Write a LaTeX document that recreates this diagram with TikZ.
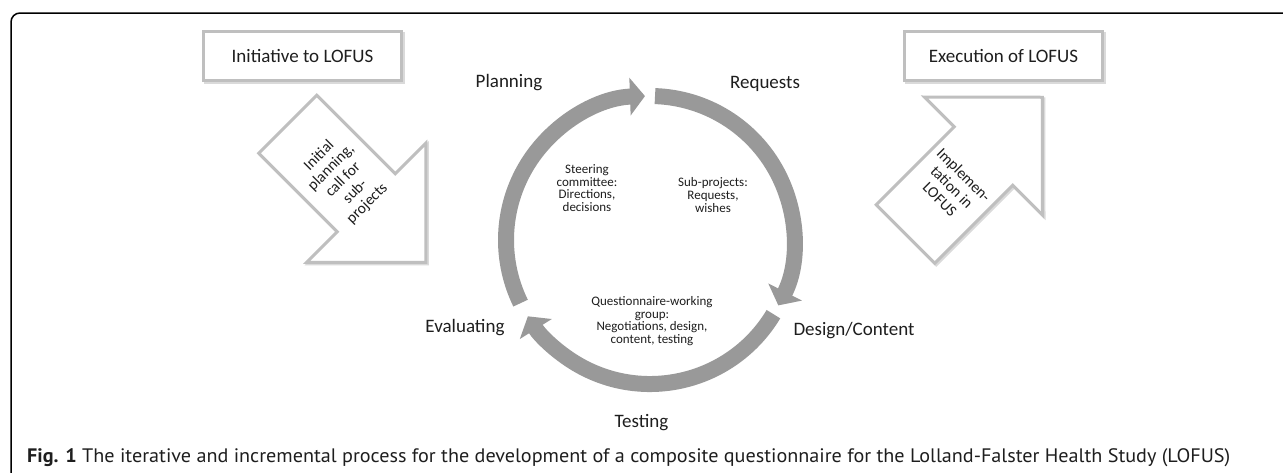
\documentclass[tikz,border=0pt]{standalone}
\usepackage{fontspec}
\usepackage{graphicx}
\setmainfont{Carlito}
\newfontfamily\capfont{PT Sans}
\usetikzlibrary{arrows.meta}
\definecolor{ringgray}{RGB}{153,153,153}
\definecolor{boxgray}{RGB}{191,191,191}
\definecolor{shadowgray}{RGB}{218,218,218}
\definecolor{txt}{RGB}{30,30,30}
\begin{document}
\begin{tikzpicture}[x=1pt,y=-1pt,
  ring/.style={draw=ringgray,line width=16pt,-{Triangle[width=37pt,length=15pt]}},
  boxnode/.style={draw=boxgray,line width=3pt,fill=white,inner sep=0pt,
    minimum width=198pt,minimum height=49pt,text=txt,
    font=\fontsize{19}{22}\selectfont,
    preaction={draw=shadowgray,line width=3pt,transform canvas={shift={(1.5pt,-1.5pt)}}}},
  blockarrow/.style={draw=boxgray,line width=3pt,fill=white,line join=miter},
  arrowshadow/.style={draw=shadowgray,line width=3pt,line join=miter},
  arrowtext/.style={align=center,text=txt,inner sep=0pt,font=\fontsize{15.5}{17}\selectfont},
  phase/.style={anchor=base,text=txt,inner sep=0pt,font=\fontsize{19}{22}\selectfont},
  inner/.style={align=center,text=txt,inner sep=0pt,font=\fontsize{13}{12.7}\selectfont}]
\useasboundingbox (0,0) rectangle (1283,472);
\fill[white] (0,0) rectangle (1283,472);
% frame
\draw[black,line width=1.5pt,rounded corners=9pt] (1290,13) -- (11,13) -- (11,480);
% top boxes
\node[boxnode] (init) at (302.5,56) {Initiative to LOFUS};
\node[boxnode] (exec) at (1003.5,56) {Execution of LOFUS};
% left block arrow (pointing down-right)
\draw[arrowshadow,shift={(1.5,1.5)}] (316.75,95.25) -- (258.75,153.25) -- (337.25,231.75) -- (306.75,262.25)
  -- (425.75,262.25) -- (425.75,143.25) -- (395.25,173.75) -- cycle;
\draw[blockarrow] (316.75,95.25) -- (258.75,153.25) -- (337.25,231.75) -- (306.75,262.25)
  -- (425.75,262.25) -- (425.75,143.25) -- (395.25,173.75) -- cycle;
\node[arrowtext,rotate=45] (inittext) at (343.25,179.75) {Initial\\planning,\\call for\\sub-\\projects};
% right block arrow (pointing up-right)
\draw[arrowshadow,shift={(1.5,1.5)}] (876.25,204.75) -- (934.75,263.25) -- (1012.75,185.25) -- (1042.5,215)
  -- (1042.25,97.25) -- (924.5,97) -- (954.25,126.75) -- cycle;
\draw[blockarrow] (876.25,204.75) -- (934.75,263.25) -- (1012.75,185.25) -- (1042.5,215)
  -- (1042.25,97.25) -- (924.5,97) -- (954.25,126.75) -- cycle;
\node[arrowtext,rotate=-45] (impltext) at (952,187) {Implemen-\\tation in\\LOFUS};
% cycle ring
\coordinate (ringc) at (650,240);
\draw[ring] ([shift={(-206:144)}]ringc) arc[start angle=-206,end angle=-92,radius=144];
\draw[ring] ([shift={(-88:144)}]ringc) arc[start angle=-88,end angle=27,radius=144];
\draw[ring] ([shift={(31:144)}]ringc) arc[start angle=31,end angle=148,radius=144];
% phase labels
\node[phase] (planning) at (509,87) {Planning};
\node[phase] (requests) at (765,88) {Requests};
\node[phase] (design) at (854,335) {Design/Content};
\node[phase] (testing) at (641.5,427) {Testing};
\node[phase] (evaluating) at (465,332) {Evaluating};
% inner texts
\node[inner] (steer) at (587,188) {Steering\\committee:\\Directions,\\decisions};
\node[inner] (sub) at (713,195) {Sub-projects:\\Requests,\\wishes};
\node[inner] (qwg) at (652,321) {Questionnaire-working\\group:\\Negotiations, design,\\content, testing};
% caption
\node[anchor=base west,inner sep=0pt] (caption) at (27,462)
  {\resizebox{1203pt}{\height}{\capfont\fontsize{19.5}{22}\selectfont\color{txt}\textbf{Fig. 1} The iterative and incremental process for the development of a composite questionnaire for the Lolland-Falster Health Study (LOFUS)}};
\end{tikzpicture}
\end{document}
